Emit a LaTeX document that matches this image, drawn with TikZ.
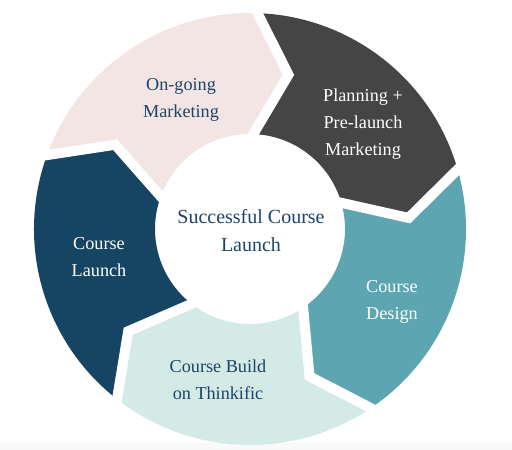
\documentclass[tikz,border=0pt]{standalone}
\usepackage{fontspec}
\setmainfont{Liberation Serif}
\usetikzlibrary{calc}
\definecolor{lpink}{HTML}{F2E5E3}
\definecolor{dgray}{HTML}{454545}
\definecolor{teal2}{HTML}{5CA5B1}
\definecolor{lteal}{HTML}{D3EAE6}
\definecolor{dblue}{HTML}{154563}
\definecolor{tblue}{HTML}{1D4466}
\definecolor{strip}{HTML}{F9F9F9}
\begin{document}
\begin{tikzpicture}[x=1pt,y=1pt,
  lbl/.style={align=center,font=\fontsize{18.2}{27}\selectfont,inner sep=0pt},
  ctr/.style={align=center,font=\fontsize{20}{28}\selectfont,inner sep=0pt,text=tblue}]
\fill[white] (0,0) rectangle (512,450);
\fill[strip] (0,0) rectangle (512,7);
\useasboundingbox (0,0) rectangle (512,450);
\begin{scope}[shift={(250pt,221pt)}]
\foreach \a/\c in {88/dgray,16/teal2,-56/lteal,-128/dblue,-200/lpink}{
  \pgfmathsetmacro\b{\a-72}
  \pgfmathsetmacro\bt{\a-84}
  \pgfmathsetmacro\at{\a-12}
  \fill[\c] (\a:216pt) arc[start angle=\a, end angle=\b, radius=216pt]
    -- (\bt:159pt) -- (\b:95pt) arc[start angle=\b, end angle=\a, radius=95pt]
    -- (\at:159pt) -- cycle;
}
\foreach \a in {88,16,-56,-128,-200}{
  \pgfmathsetmacro\at{\a-12}
  \coordinate (tp) at (\at:159pt);
  \draw[white,line width=10pt,line join=miter,miter limit=10]
    ($(tp)!1.2!(\a:216pt)$) -- (tp) -- ($(tp)!1.2!(\a:95pt)$);
}
\end{scope}
\node[lbl,text=tblue] (ongoing) at (181,350) {On-going\\Marketing};
\node[lbl,text=white] (planning) at (363,326) {Planning +\\Pre-launch\\Marketing};
\node[lbl,text=white] (design) at (392,148) {Course\\Design};
\node[lbl,text=tblue] (build) at (218,70) {Course Build\\on Thinkific};
\node[lbl,text=white] (launch) at (99,193) {Course\\Launch};
\node[ctr] (center) at (251,219) {Successful Course\\Launch};
\end{tikzpicture}
\end{document}
